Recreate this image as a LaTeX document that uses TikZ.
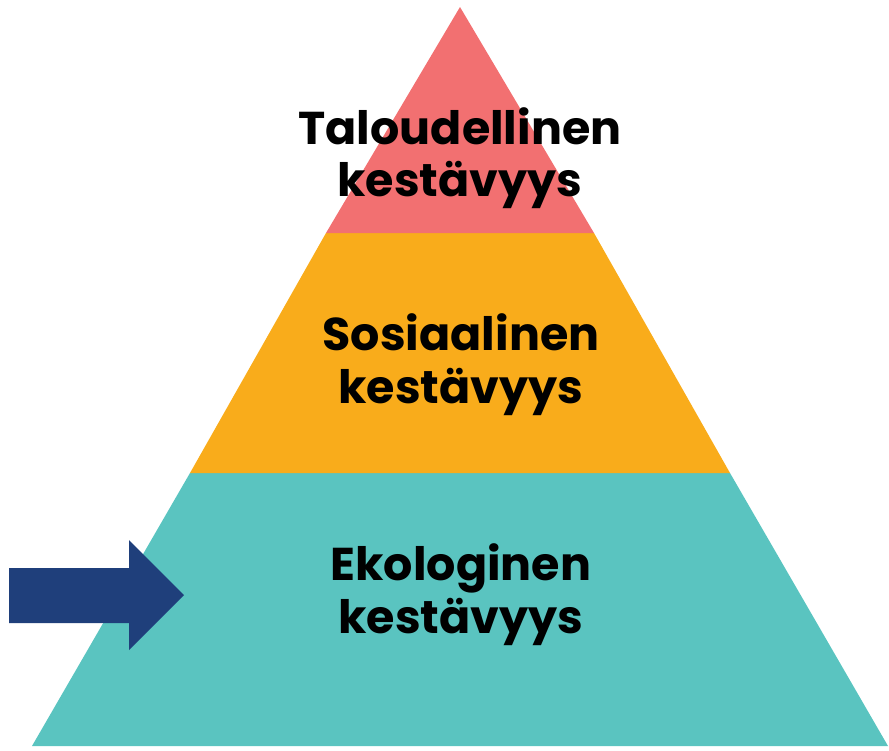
\documentclass[tikz,border=0pt]{standalone}
\usepackage{fontspec}
\setmainfont{Poppins}[BoldFont={Poppins Bold}]
\definecolor{topred}{HTML}{F27071}
\definecolor{midorange}{HTML}{F9AC1B}
\definecolor{lowteal}{HTML}{5AC4C0}
\definecolor{arrowblue}{HTML}{1F3F7B}
\begin{document}
\begin{tikzpicture}[x=1pt,y=-1pt,
  lbl/.style={font=\fontsize{46}{54}\selectfont\bfseries, text=black, anchor=base, inner sep=0pt}]
\useasboundingbox (0,0) rectangle (889,750);
% pyramid bands
\fill[lowteal] (32,746) -- (888,746) -- (730,473) -- (190,473) -- cycle;
\fill[midorange] (190,473) -- (730,473) -- (594,233) -- (326,233) -- cycle;
\fill[topred] (326,233) -- (594,233) -- (460,7) -- cycle;
% labels
\node[lbl] (t1) at (460,144) {Taloudellinen};
\node[lbl] (t2) at (460,196) {kestävyys};
\node[lbl] (s1) at (461,350) {Sosiaalinen};
\node[lbl] (s2) at (461,403) {kestävyys};
\node[lbl] (e1) at (461,580) {Ekologinen};
\node[lbl] (e2) at (461,633) {kestävyys};
% arrow
\fill[arrowblue] (9,568) -- (129,568) -- (129,540) -- (184,595) -- (129,650) -- (129,623) -- (9,623) -- cycle;
\end{tikzpicture}
\end{document}
